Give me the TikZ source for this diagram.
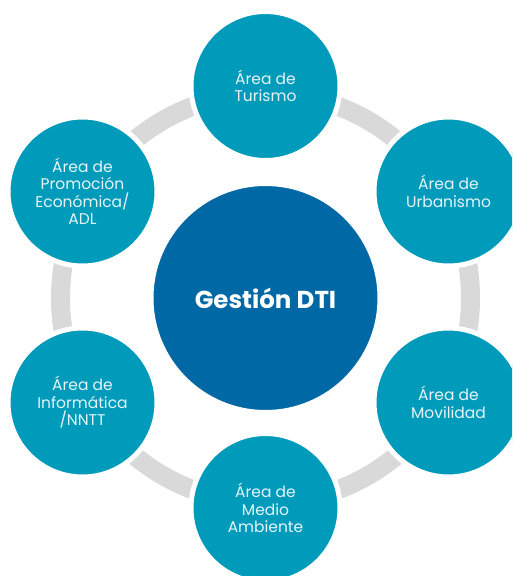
\documentclass[tikz,border=0pt]{standalone}
\usepackage{fontspec}
\setmainfont{Poppins}
\definecolor{teal1}{HTML}{009BBB}
\definecolor{blue1}{HTML}{0068A5}
\definecolor{ring}{HTML}{D9D9D9}
\definecolor{txt}{HTML}{E6F4F8}
\begin{document}
\begin{tikzpicture}[x=1pt,y=-1pt,
  area/.style={circle,fill=teal1,draw=white,line width=5pt,minimum size=149pt,inner sep=0pt,
    text=txt,align=center,font=\fontsize{15.5}{17.5}\selectfont},
  hub/.style={circle,fill=blue1,draw=white,line width=2pt,minimum size=226pt,inner sep=0pt,
    text=white,font=\fontsize{24.5}{28}\selectfont\bfseries}]
\useasboundingbox (0,0) rectangle (512,576);
\clip (0,0) rectangle (512,576);
\coordinate (c) at (265.5,298);
\draw[ring,line width=19pt] (c) circle[radius=205];
\node[hub] (hub) at (c) {Gestión DTI};
\node[area] (tur) at (265.5,86) {Área de\\Turismo};
\node[area] (urb) at (448.5,191.5) {Área de\\Urbanismo};
\node[area] (mov) at (448.5,402.5) {Área de\\Movilidad};
\node[area] (med) at (265.5,508) {Área de\\Medio\\Ambiente};
\node[area] (inf) at (82.5,402.5) {Área de\\Informática\\/NNTT};
\node[area] (pro) at (82.5,191.5) {Área de\\Promoción\\Económica/\\ADL};
\end{tikzpicture}
\end{document}
